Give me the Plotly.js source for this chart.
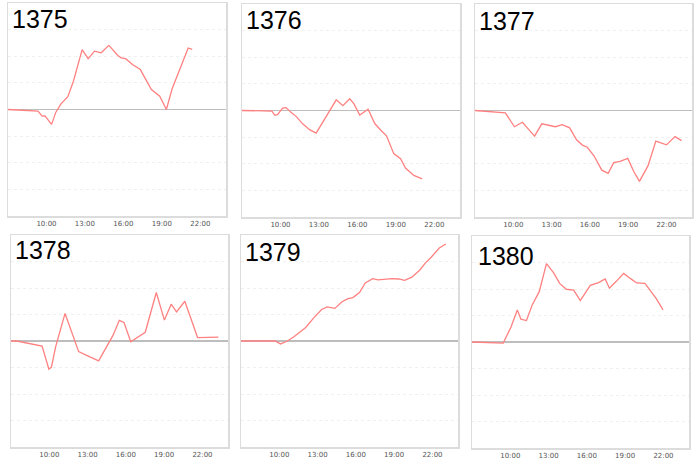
<!DOCTYPE html>
<html>
<head>
<meta charset="utf-8">
<script src="https://cdn.plot.ly/plotly-3.0.1.min.js"></script>
<style>html,body{margin:0;padding:0;background:#fff;}#chart{width:700px;height:461px;}</style>
</head>
<body>
<div id="chart"></div>
<script>
var panelNames = ["1375", "1376", "1377", "1378", "1379", "1380"];

var times1375 = ["07:00","09:20","09:40","09:53","10:24","10:44","11:08","11:40","12:06","12:47","13:15","13:45","14:16","14:52","15:34","15:50","16:10","16:44","17:19","18:11","18:50","19:21","19:48","21:03","21:22"];
var values1375 = [0,-0.06,-0.25,-0.24,-0.56,-0.1,0.21,0.48,1.06,2.25,1.91,2.19,2.13,2.41,2.03,1.94,1.91,1.68,1.5,0.75,0.5,0,0.78,2.31,2.26];

var times1376 = ["07:00","09:20","09:34","09:47","10:10","10:26","10:49","11:13","11:44","12:16","12:47","14:21","14:52","15:24","15:44","16:11","16:50","17:22","17:53","18:16","18:50","19:22","19:45","20:24","21:03"];
var values1376 = [0,-0.02,-0.18,-0.15,0.09,0.11,-0.07,-0.22,-0.5,-0.72,-0.85,0.4,0.18,0.44,0.25,-0.17,0.05,-0.5,-0.77,-0.95,-1.62,-1.81,-2.16,-2.44,-2.57];

var times1377 = ["07:00","09:23","10:05","10:43","11:11","11:40","12:14","12:46","13:18","13:50","14:25","14:58","15:25","15:48","16:20","16:56","17:26","17:52","18:22","18:58","19:27","19:53","20:33","21:10","22:00","22:40","23:11"];
var values1377 = [0,-0.09,-0.61,-0.44,-0.7,-0.96,-0.5,-0.55,-0.61,-0.53,-0.65,-1.11,-1.3,-1.38,-1.71,-2.24,-2.36,-1.96,-1.91,-1.8,-2.3,-2.66,-2.08,-1.15,-1.29,-0.98,-1.13];

var times1378 = ["07:00","07:27","09:26","09:58","10:10","10:30","11:14","12:18","12:53","13:52","15:00","15:29","15:51","16:23","17:31","18:23","19:01","19:33","19:58","20:37","21:37","23:15"];
var values1378 = [0,0,-0.19,-1.06,-0.99,-0.21,1.04,-0.4,-0.53,-0.75,0.22,0.78,0.7,-0.03,0.33,1.83,0.79,1.39,1.1,1.5,0.13,0.15];

var times1379 = ["07:00","09:40","10:06","10:38","11:09","11:35","12:04","12:43","13:19","13:45","14:21","14:55","15:23","15:46","16:17","16:44","17:19","17:44","18:50","19:21","19:49","20:23","21:02","21:26","21:54","22:32","23:03"];
var values1379 = [0,0,-0.11,0,0.16,0.31,0.51,0.88,1.19,1.29,1.23,1.48,1.6,1.64,1.83,2.19,2.35,2.31,2.35,2.34,2.29,2.41,2.69,2.94,3.16,3.51,3.66];

var times1380 = ["07:00","09:27","10:03","10:33","10:50","11:16","11:43","12:16","12:50","13:24","13:52","14:23","14:58","15:29","16:16","16:55","17:26","17:46","18:17","18:53","19:24","19:54","20:33","21:01","21:27","21:58"];
var values1380 = [0,-0.04,0.56,1.21,0.86,0.81,1.4,1.9,2.96,2.61,2.21,1.99,1.96,1.56,2.14,2.24,2.38,2.03,2.28,2.59,2.4,2.23,2.21,1.93,1.63,1.21];

var tickTimes = ["10:00","13:00","16:00","19:00","22:00"];

var allTimes = [times1375, times1376, times1377, times1378, times1379, times1380];
var allValues = [values1375, values1376, values1377, values1378, values1379, values1380];

function toDate(t) { return "2000-01-01 " + t; }

// panel boxes in pixels: [left, right, top, bottom]
var boxes = [
  [8, 226, 3, 216],
  [242, 460, 4, 217],
  [475, 692, 4, 217],
  [11, 228, 235, 447],
  [241, 458, 235, 447],
  [472, 689, 236, 448]
];
var titlePos = [[10, 3], [244, 4], [477, 5], [13, 234], [243, 236], [476, 240]];
var W = 700, H = 461;

var data = [];
var layout = {
  width: W, height: H,
  margin: {l: 0, r: 0, t: 0, b: 0},
  paper_bgcolor: "#ffffff",
  plot_bgcolor: "#ffffff",
  showlegend: false,
  annotations: []
};

for (var i = 0; i < 6; i++) {
  var sfx = i === 0 ? "" : String(i + 1);
  data.push({
    type: "scatter",
    mode: "lines",
    x: allTimes[i].map(toDate),
    y: allValues[i],
    xaxis: "x" + sfx,
    yaxis: "y" + sfx,
    line: {color: "#ff8080", width: 1.3},
    hoverinfo: "skip"
  });
  var b = boxes[i];
  layout["xaxis" + sfx] = {
    type: "date",
    domain: [b[0] / W, b[1] / W],
    range: [toDate("07:00"), "2000-01-02 00:00"],
    tickvals: tickTimes.map(toDate),
    ticktext: tickTimes,
    tickfont: {family: "DejaVu Sans", size: 7, color: "#555"},
    showgrid: false,
    zeroline: false,
    showline: true,
    mirror: true,
    linecolor: "#dcdcdc",
    linewidth: 1.5,
    ticks: "",
    ticklabelstandoff: 0,
    anchor: "y" + sfx,
    fixedrange: true
  };
  layout["yaxis" + sfx] = {
    domain: [(H - b[3]) / H, (H - b[2]) / H],
    range: [-4, 4],
    dtick: 1,
    showticklabels: false,
    showgrid: true,
    gridcolor: "#f0f0f0",
    griddash: "dot",
    zeroline: true,
    zerolinecolor: "#bdbdbd",
    zerolinewidth: 1.5,
    showline: true,
    mirror: true,
    linecolor: "#dcdcdc",
    linewidth: 1.5,
    anchor: "x" + sfx,
    fixedrange: true
  };
  layout.annotations.push({
    text: panelNames[i],
    xref: "paper", yref: "paper",
    x: titlePos[i][0] / W,
    y: (H - titlePos[i][1]) / H,
    xanchor: "left", yanchor: "top",
    showarrow: false,
    font: {family: "Liberation Sans, Arial, sans-serif", size: 25, color: "#000"}
  });
}

Plotly.newPlot("chart", data, layout, {staticPlot: true, displayModeBar: false});
</script>
</body>
</html>
